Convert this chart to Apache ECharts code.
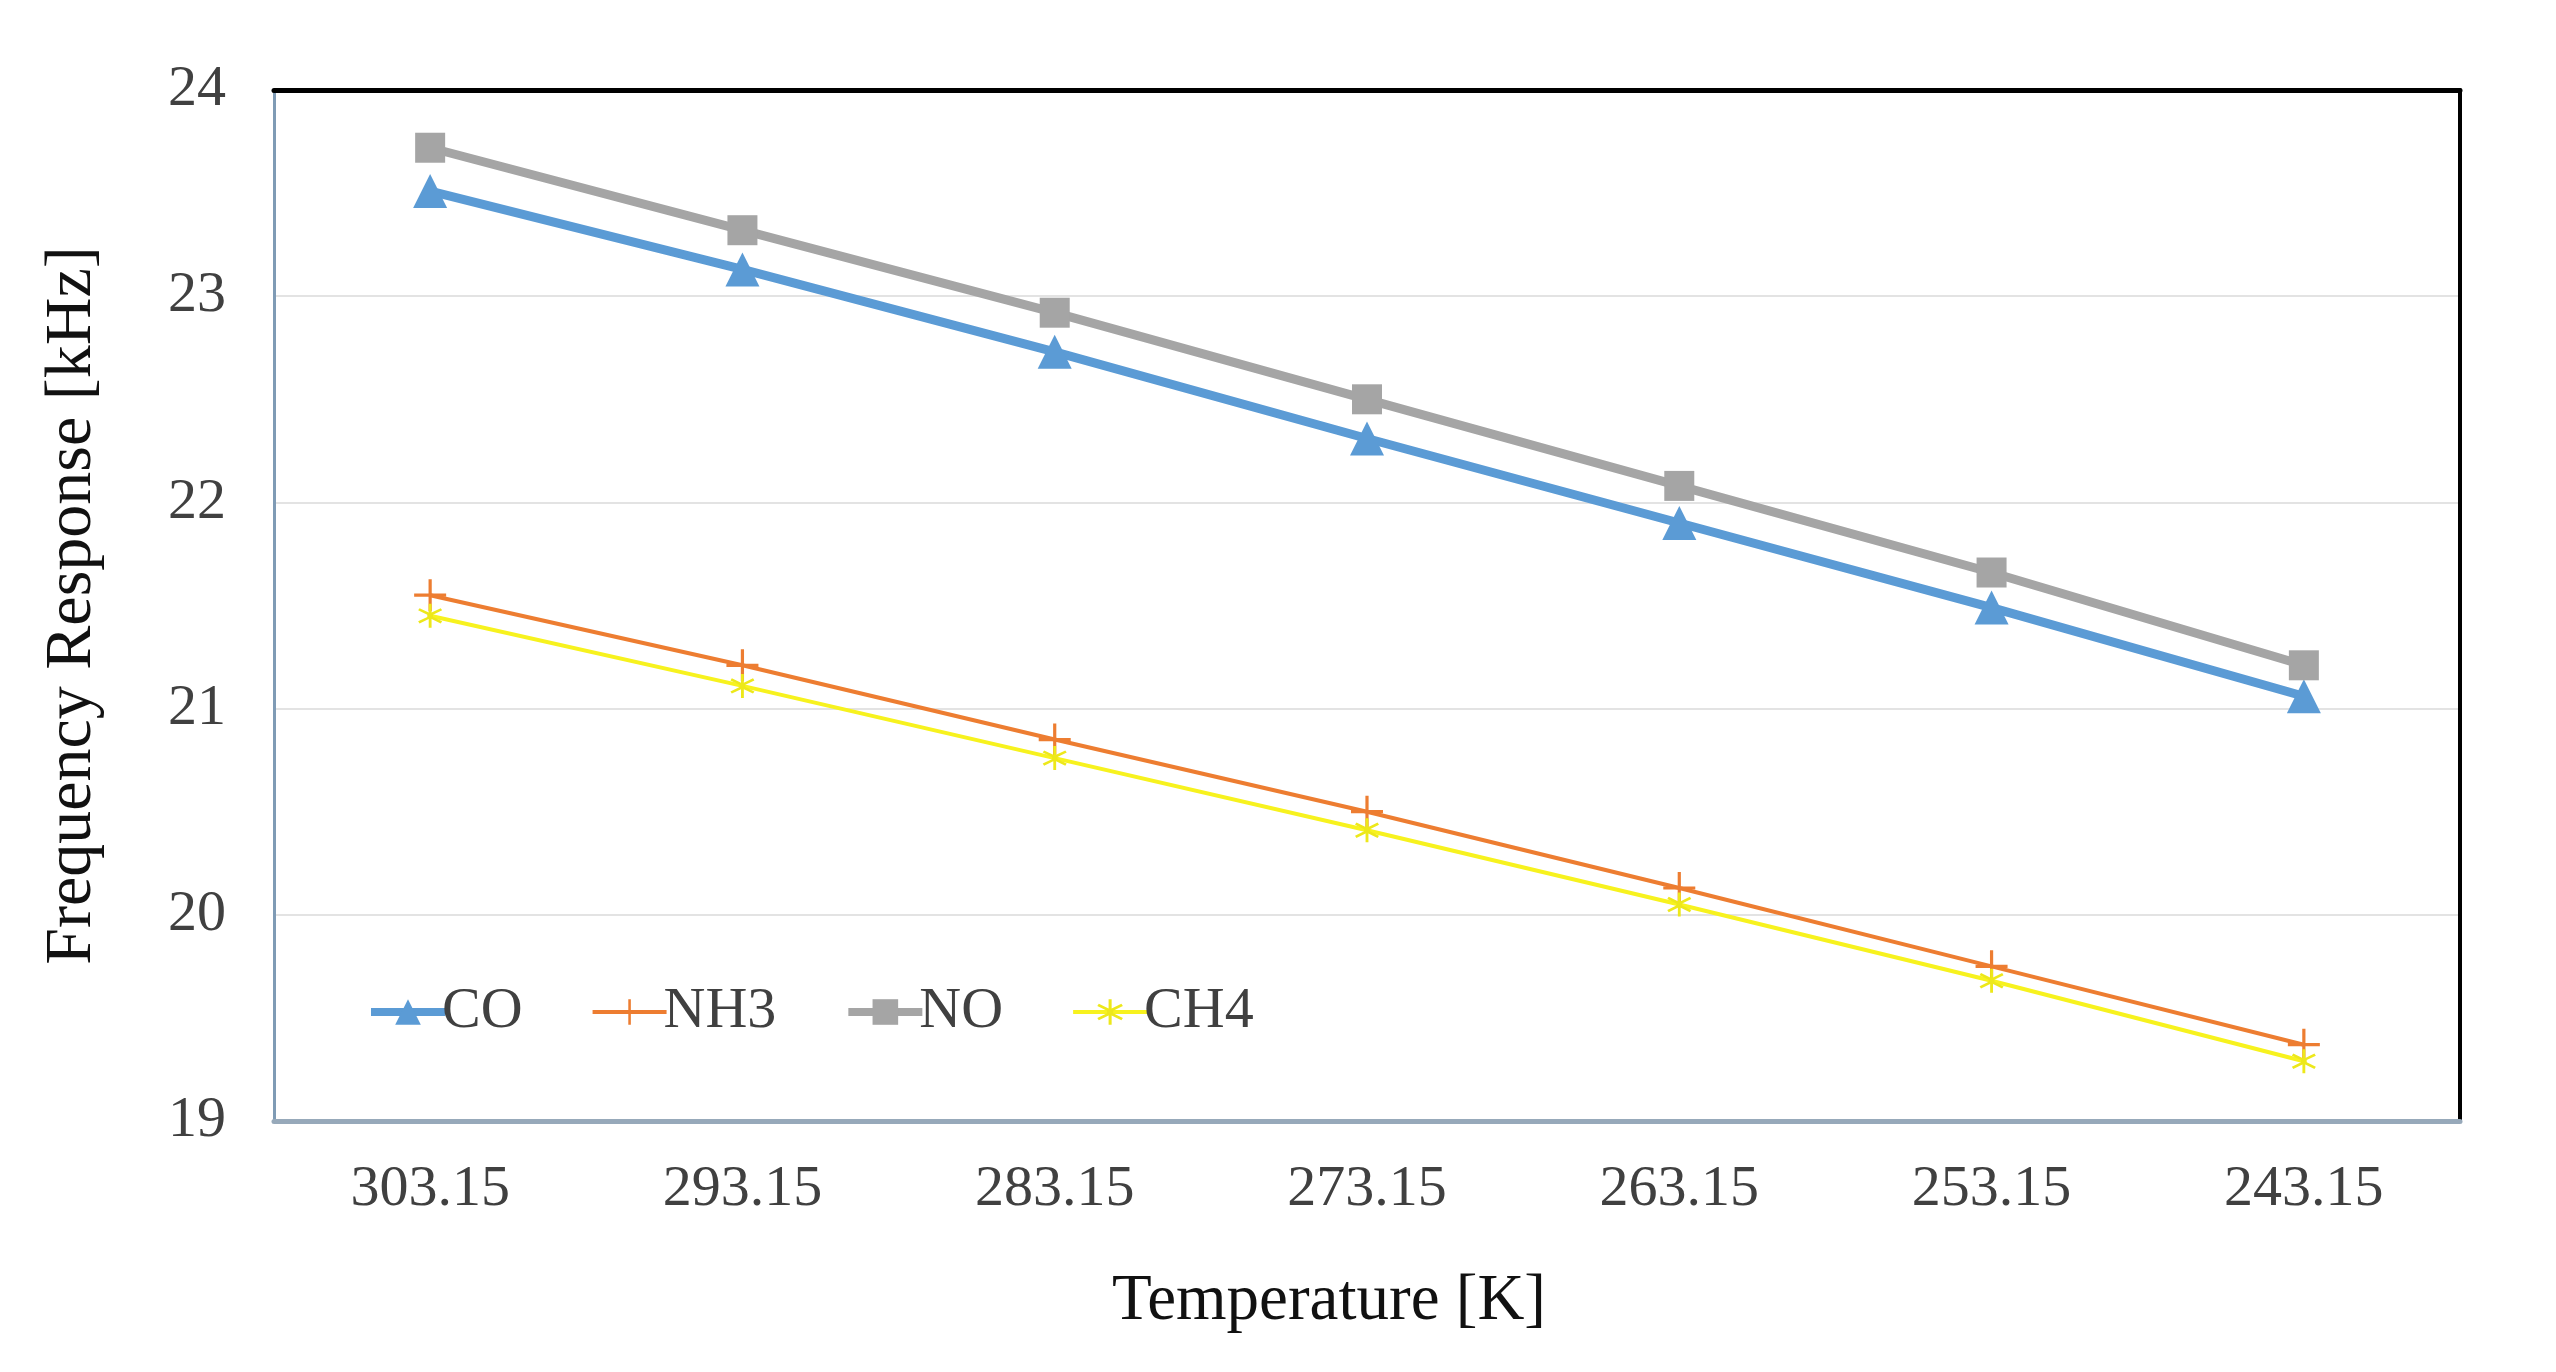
<!DOCTYPE html>
<html>
<head>
<meta charset="utf-8">
<script src="https://cdn.jsdelivr.net/npm/echarts@6/dist/echarts.min.js"></script>
<style>html,body{margin:0;padding:0;background:#fff;}#c{width:2556px;height:1372px;}</style>
</head>
<body>
<div id="c"></div>
<script>
const categories = ['303.15','293.15','283.15','273.15','263.15','253.15','243.15'];
const coValues  = [23.51, 23.13, 22.73, 22.31, 21.90, 21.49, 21.06];
const nh3Values = [21.55, 21.21, 20.85, 20.50, 20.13, 19.75, 19.37];
const noValues  = [23.72, 23.32, 22.92, 22.50, 22.08, 21.66, 21.21];
const ch4Values = [21.45, 21.11, 20.76, 20.41, 20.05, 19.68, 19.29];
const yTicks = [19, 20, 21, 22, 23, 24];

const plusPath = 'path://M9,0H11V9H20V11H11V20H9V11H0V9H9Z';
const starPath = 'path://M9,0H11V7.3L17.4,3.6L18.4,5.4L12,9.1V10.9L18.4,14.6L17.4,16.4L11,12.7V20H9V12.7L2.6,16.4L1.6,14.6L8,10.9V9.1L1.6,5.4L2.6,3.6L9,7.3Z';
const font = '"Liberation Serif", "DejaVu Serif", serif';

const chart = echarts.init(document.getElementById('c'));
chart.setOption({
  backgroundColor: '#ffffff',
  animation: false,
  textStyle: { fontFamily: font },
  grid: { left: 274, right: 96, top: 90, bottom: 251 },
  legend: {
    left: 362, top: 978,
    itemWidth: 74, itemHeight: 32, itemGap: 68,
    textStyle: { fontFamily: font, fontSize: 58, color: '#404040', padding: [0,0,0,-8] },
    data: [
      { name: 'CO', lineStyle: { width: 8 } },
      { name: 'NH3', lineStyle: { width: 4 } },
      { name: 'NO', lineStyle: { width: 8 } },
      { name: 'CH4', lineStyle: { width: 4 } }
    ]
  },
  xAxis: [{
    type: 'category', data: categories, boundaryGap: true, position: 'bottom',
    name: 'Temperature [K]', nameLocation: 'middle', nameGap: 148,
    nameTextStyle: { fontFamily: font, fontSize: 65, color: '#111', padding: [0, 76, 0, 0] },
    axisLine: { show: true, lineStyle: { color: '#97A9BA', width: 5 } },
    axisTick: { show: false },
    axisLabel: { fontFamily: font, fontSize: 58, color: '#404040', margin: 40 }
  }, {
    type: 'category', data: categories, position: 'top',
    axisLine: { show: true, lineStyle: { color: '#000', width: 5 } },
    axisTick: { show: false }, axisLabel: { show: false }, splitLine: { show: false }
  }],
  yAxis: [{
    type: 'value', min: 19, max: 24, interval: 1, position: 'left',
    name: 'Frequency Response [kHz]', nameLocation: 'middle', nameGap: 168,
    nameTextStyle: { fontFamily: font, fontSize: 66, color: '#111' },
    axisLine: { show: true, lineStyle: { color: '#7F9BB5', width: 3 } },
    axisTick: { show: false },
    axisLabel: { fontFamily: font, fontSize: 58, color: '#404040', margin: 48,
      formatter: v => yTicks.includes(v) ? String(v) : '' },
    splitLine: { show: true, lineStyle: { color: '#E3E3E3', width: 2 } }
  }, {
    type: 'value', min: 19, max: 24, interval: 1, position: 'right',
    axisLine: { show: true, lineStyle: { color: '#000', width: 4 } },
    axisTick: { show: false }, axisLabel: { show: false }, splitLine: { show: false }
  }],
  series: [
    { name: 'CO', type: 'line', data: coValues, symbol: 'triangle', symbolSize: 34,
      lineStyle: { color: '#5B9BD5', width: 9 }, itemStyle: { color: '#5B9BD5' } },
    { name: 'NH3', type: 'line', data: nh3Values, symbol: plusPath, symbolSize: 32,
      lineStyle: { color: '#ED7D31', width: 4 }, itemStyle: { color: '#ED7D31' } },
    { name: 'NO', type: 'line', data: noValues, symbol: 'rect', symbolSize: 30,
      lineStyle: { color: '#A5A5A5', width: 9 }, itemStyle: { color: '#A5A5A5' } },
    { name: 'CH4', type: 'line', data: ch4Values, symbol: starPath, symbolSize: 24,
      lineStyle: { color: '#F7F21E', width: 4 }, itemStyle: { color: '#EDE81A' } }
  ]
});
</script>
</body>
</html>
